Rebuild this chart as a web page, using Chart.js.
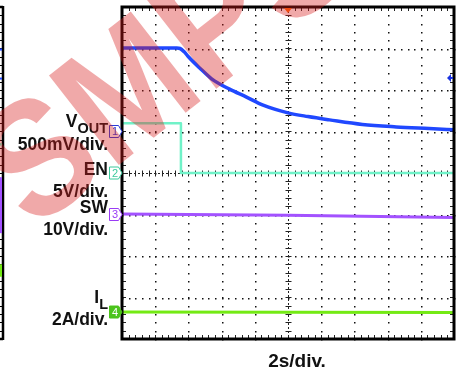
<!DOCTYPE html>
<html>
<head>
<meta charset="utf-8">
<script src="https://cdn.jsdelivr.net/npm/chart.js@4/dist/chart.umd.min.js"></script>
<style>
html,body{margin:0;padding:0;background:#fff;}
#c{display:block;}
</style>
</head>
<body>
<canvas id="c" width="459" height="373"></canvas>
<script>
// ---- data (time in seconds, 2 s/div; amplitude in screen divisions) ----
const voutTime = [0, 3.3, 3.5, 3.75, 4.0, 4.68, 5.4, 6.48, 7.5, 8.46, 10.0, 11.2, 12.5, 14.48, 16.52, 18.5, 20];
const voutDiv  = [3.01, 3.01, 3.0, 2.92, 2.8, 2.53, 2.27, 2.02, 1.83, 1.64, 1.45, 1.36, 1.28, 1.17, 1.11, 1.07, 1.04];
const enTime   = [0, 3.55, 3.55, 20];
const enDiv    = [1.2, 1.2, 0.0, 0.0];
const swTime   = [0, 10, 20];
const swDiv    = [-0.99, -1.02, -1.07];
const ilTime   = [0, 20];
const ilDiv    = [-3.35, -3.36];

const channelNames = ["V", "EN", "SW", "I"];
const channelSubs  = ["OUT", "", "", "L"];
const channelScales = ["500mV/div.", "5V/div.", "10V/div.", "2A/div."];
const channelRef = [1.0, 0.0, -1.0, -3.35];   // ground reference marker levels (div)
const timeLabel = "2s/div.";
const watermark = "MPS";

const colBlue = '#2048ff', colTeal = '#70f2c8', colPurple = '#a352ff', colGreen = '#74ea14';
const pts = (xs, ys) => xs.map((x, i) => ({x: x, y: ys[i]}));

const FONT = "'Liberation Sans', Arial, sans-serif";

const scopePlugin = {
  id: 'scope',
  beforeDatasetsDraw(chart) {
    const {ctx, chartArea: a, scales: {x, y}} = chart;
    ctx.save();
    ctx.fillStyle = '#111';
    for (let gy = -3; gy <= 3; gy++) {
      if (gy === 0) continue;
      const py = Math.round(y.getPixelForValue(gy));
      for (let t = 0; t <= 20.001; t += 0.4) {
        const px = Math.round(x.getPixelForValue(t));
        ctx.fillRect(px, py, 1.5, 1.5);
      }
    }
    for (let gx = 2; gx <= 18; gx += 2) {
      if (gx === 10) continue;
      const px = Math.round(x.getPixelForValue(gx));
      for (let v = -4; v <= 4.001; v += 0.2) {
        const py = Math.round(y.getPixelForValue(v));
        ctx.fillRect(px, py, 1.5, 1.5);
      }
    }
    const cx = Math.round(x.getPixelForValue(10)) + 0.5;
    const cy = Math.round(y.getPixelForValue(0)) + 0.5;
    ctx.strokeStyle = '#222';
    ctx.lineWidth = 1;
    ctx.setLineDash([2, 2]);
    ctx.beginPath();
    ctx.moveTo(a.left, cy); ctx.lineTo(a.right, cy);
    ctx.moveTo(cx, a.top); ctx.lineTo(cx, a.bottom);
    ctx.stroke();
    ctx.setLineDash([]);
    ctx.beginPath();
    for (let t = 0; t <= 20.001; t += 0.4) {
      const px = Math.round(x.getPixelForValue(t)) + 0.5;
      ctx.moveTo(px, cy - 3); ctx.lineTo(px, cy + 3);
      ctx.moveTo(px, a.top); ctx.lineTo(px, a.top + 4);
      ctx.moveTo(px, a.bottom); ctx.lineTo(px, a.bottom - 4);
    }
    for (let v = -4; v <= 4.001; v += 0.2) {
      const py = Math.round(y.getPixelForValue(v)) + 0.5;
      ctx.moveTo(cx - 3, py); ctx.lineTo(cx + 3, py);
      ctx.moveTo(a.left, py); ctx.lineTo(a.left + 4, py);
      ctx.moveTo(a.right, py); ctx.lineTo(a.right - 4, py);
    }
    ctx.stroke();
    ctx.restore();
  },
  afterDatasetsDraw(chart) {
    const {ctx, chartArea: a, scales: {x, y}} = chart;
    ctx.save();
    ctx.strokeStyle = '#000';
    ctx.lineWidth = 3;
    ctx.strokeRect(a.left, a.top, a.right - a.left, a.bottom - a.top);

    // left neighbouring panel edge
    ctx.lineWidth = 2.5;
    ctx.beginPath();
    ctx.moveTo(3, a.top - 1); ctx.lineTo(3, a.bottom + 1);
    ctx.moveTo(0, a.top); ctx.lineTo(3, a.top);
    ctx.moveTo(0, a.bottom); ctx.lineTo(3, a.bottom);
    ctx.stroke();
    ctx.lineWidth = 1;
    ctx.beginPath();
    for (let v = -4; v <= 4.001; v += 0.2) {
      const py = Math.round(y.getPixelForValue(v)) + 0.5;
      ctx.moveTo(0, py); ctx.lineTo(2, py);
    }
    ctx.stroke();
    const strips = [[colBlue, 3.0, 2.95], [colBlue, 2.3, 2.27], [colTeal, 0.72, 0.66], [colPurple, -0.1, -1.45], [colGreen, -2.2, -2.5]];
    strips.forEach(s => {
      ctx.fillStyle = s[0];
      const y1 = y.getPixelForValue(s[1]), y2 = y.getPixelForValue(s[2]);
      ctx.fillRect(0, y1, 2, Math.max(2, y2 - y1));
    });

    const tx = x.getPixelForValue(10);
    ctx.fillStyle = '#ff6a10';
    ctx.beginPath();
    ctx.moveTo(tx - 4, a.top + 1); ctx.lineTo(tx + 4, a.top + 1); ctx.lineTo(tx, a.top + 6);
    ctx.closePath(); ctx.fill();
    const ly = y.getPixelForValue(2.29);
    ctx.fillStyle = '#1a33e0';
    ctx.beginPath();
    ctx.moveTo(a.right - 7, ly); ctx.lineTo(a.right - 3, ly - 4); ctx.lineTo(a.right - 3, ly + 4);
    ctx.closePath(); ctx.fill();
    ctx.fillRect(a.right - 4, ly - 1, 3, 2);

    const badge = [
      {stroke: '#2a3ad8', fill: '#fff', text: '#2a3ad8'},
      {stroke: '#3cc99c', fill: '#fff', text: '#3cc99c'},
      {stroke: '#9a3cf5', fill: '#fff', text: '#9a3cf5'},
      {stroke: '#4cc41c', fill: '#4cc41c', text: '#fff'}
    ];
    channelRef.forEach((ref, i) => {
      const py = y.getPixelForValue(ref);
      const x0 = a.left - 12.5, x1 = a.left - 3.5, tip = a.left;
      ctx.beginPath();
      ctx.moveTo(x0, py - 6); ctx.lineTo(x1, py - 6); ctx.lineTo(tip, py);
      ctx.lineTo(x1, py + 6); ctx.lineTo(x0, py + 6); ctx.closePath();
      ctx.fillStyle = badge[i].fill; ctx.fill();
      ctx.lineWidth = 1; ctx.strokeStyle = badge[i].stroke; ctx.stroke();
      ctx.fillStyle = badge[i].text;
      ctx.font = '11px ' + FONT;
      ctx.textAlign = 'center'; ctx.textBaseline = 'middle';
      ctx.fillText(String(i + 1), x0 + 5.5, py + 0.5);
    });

    ctx.fillStyle = '#111';
    ctx.textBaseline = 'alphabetic';
    const R = 108;
    const big = 'bold 17.5px ' + FONT, small = 'bold 14.5px ' + FONT;
    const nameBase = [127, 175, 213, 303];
    const scaleBase = [150, 197, 235, 325];
    channelNames.forEach((nm, i) => {
      let right = R;
      if (channelSubs[i]) {
        ctx.font = small; ctx.textAlign = 'right';
        ctx.fillText(channelSubs[i], right, nameBase[i] + 6);
        right -= ctx.measureText(channelSubs[i]).width;
      }
      ctx.font = big; ctx.textAlign = 'right';
      ctx.fillText(nm, right, nameBase[i]);
      ctx.fillText(channelScales[i], R, scaleBase[i]);
    });
    ctx.font = 'bold 19px ' + FONT;
    ctx.textAlign = 'center';
    ctx.fillText(timeLabel, x.getPixelForValue(10) + 9, 367);

    // watermark (tiled "MPS" text, rotated)
    ctx.save();
    ctx.translate(111, 171);
    ctx.rotate(-38 * Math.PI / 180);
    ctx.scale(0.9, 1);
    ctx.font = 'bold 165px ' + FONT;
    ctx.fillStyle = 'rgba(215,30,30,0.38)';
    ctx.textAlign = 'left';
    ctx.fillText(watermark, 0, 0);
    ctx.textAlign = 'right';
    ctx.fillText(watermark, 0, 0);
    ctx.restore();
    ctx.restore();
  }
};

new Chart(document.getElementById('c'), {
  type: 'line',
  data: {
    datasets: [
      {data: pts(ilTime, ilDiv), borderColor: colGreen, borderWidth: 3},
      {data: pts(swTime, swDiv), borderColor: colPurple, borderWidth: 3},
      {data: pts(enTime, enDiv), borderColor: colTeal, borderWidth: 2.5},
      {data: pts(voutTime, voutDiv), borderColor: colBlue, borderWidth: 3.5, cubicInterpolationMode: 'monotone'}
    ]
  },
  options: {
    responsive: false,
    animation: false,
    devicePixelRatio: 1,
    layout: {padding: {left: 122, right: 5, top: 7, bottom: 34}},
    elements: {point: {radius: 0}, line: {borderJoinStyle: 'round'}},
    plugins: {legend: {display: false}, tooltip: {enabled: false}},
    scales: {
      x: {type: 'linear', min: 0, max: 20, display: false},
      y: {type: 'linear', min: -4, max: 4, display: false}
    }
  },
  plugins: [scopePlugin]
});
</script>
</body>
</html>
